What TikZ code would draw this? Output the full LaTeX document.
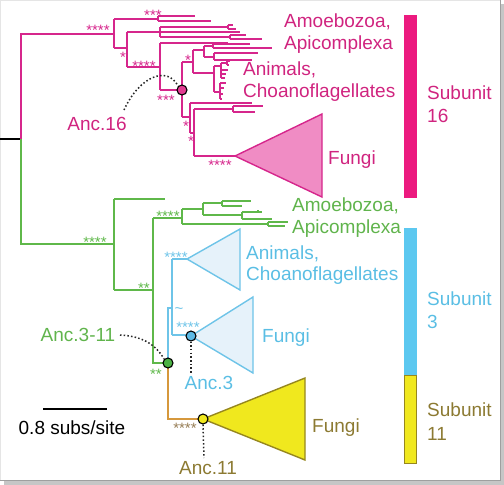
\documentclass[tikz,border=0pt]{standalone}
\usepackage{fontspec}
\setmainfont{Liberation Sans}
\definecolor{pinkL}{RGB}{214,38,140}
\definecolor{pinkFill}{RGB}{240,140,196}
\definecolor{pinkBar}{RGB}{236,26,127}
\definecolor{pinkText}{RGB}{208,36,127}
\definecolor{pinkDot}{RGB}{226,60,146}
\definecolor{greenL}{RGB}{95,184,74}
\definecolor{greenText}{RGB}{96,180,76}
\definecolor{greenDot}{RGB}{76,178,68}
\definecolor{blueL}{RGB}{110,196,232}
\definecolor{blueFill}{RGB}{230,242,250}
\definecolor{blueBar}{RGB}{92,200,240}
\definecolor{blueText}{RGB}{90,190,228}
\definecolor{blueDot}{RGB}{92,186,230}
\definecolor{orangeL}{RGB}{214,152,60}
\definecolor{yellowF}{RGB}{240,232,30}
\definecolor{yellowS}{RGB}{150,135,30}
\definecolor{oliveText}{RGB}{140,122,50}
\definecolor{oliveStar}{RGB}{150,125,85}
\begin{document}
\begin{tikzpicture}[x=1pt,y=-1pt,
  br/.style={line width=1.3pt},
  tri/.style={line width=1.4pt, line join=miter},
  lbl/.style={font=\fontsize{19}{22}\selectfont, inner sep=0pt, anchor=base west},
  anc/.style={font=\fontsize{19}{22}\selectfont, inner sep=0pt, anchor=base},
  stars/.style={font=\fontsize{15}{15}\selectfont, inner sep=0pt, anchor=base},
  ancdot/.style={circle, draw=black, line width=1.1pt, minimum size=10pt, inner sep=0pt},
  dotline/.style={line width=1.5pt, dash pattern=on 1.5pt off 2.2pt, black!85},
  bar/.style={line width=0pt}
]
\useasboundingbox (0,0) rectangle (504,485);
% frame
\fill[gray!45] (501,4) rectangle (504,485);
\fill[gray!45] (4,481) rectangle (504,485);
\draw[gray!20, line width=0.8pt] (0.4,480.5) -- (0.4,0.4) -- (500.5,0.4);
\draw[gray!75, line width=0.9pt] (500.5,0.4) -- (500.5,480.5) -- (0.4,480.5);

% ---------- root ----------
\draw[br, black] (0,139) -- (21,139);

% ---------- pink (subunit 16) tree ----------
\draw[br, pinkL]
  (21,139) -- (21,34) -- (114,34)
  (114,19) -- (114,48)
  (114,19) -- (158,19) (158,16) -- (158,21) (158,16) -- (195,16) (158,21) -- (211,21)
  (114,48) -- (127,48)
  (127,32) -- (127,67)
  (127,32) -- (160,32) (160,27) -- (160,37)
  (160,27) -- (228,27) (228,25) -- (228,29) (228,25) -- (233,25) (228,29) -- (236,29)
  (160,32) -- (240,32)
  (160,37) -- (230,37) (230,35) -- (230,39) (230,35) -- (246,35) (230,39) -- (262,39)
  (127,67) -- (160,67)
  (160,43) -- (160,90)
  (160,43) -- (228,43)
  (160,90) -- (182,90)
  (182,62) -- (182,117)
  (182,62) -- (193,62)
  (193,50) -- (193,73)
  (193,50) -- (204,50)
  (204,46) -- (204,57)
  (204,46) -- (213,46) (213,44) -- (213,48) (213,44) -- (250,44) (213,48) -- (272,48)
  (204,57) -- (214,57) (214,53) -- (214,60) (214,53) -- (258,53) (214,60) -- (252,60)
  (193,73) -- (214,73)
  (214,66) -- (214,92)
  (214,66) -- (221,66) (221,63) -- (221,78)
  (221,63) -- (227,63) (227,61) -- (227,65) (227,61) -- (230,61) (227,65) -- (229,65)
  (221,70) -- (228,70) (221,74) -- (226,74) (221,78) -- (225,78)
  (214,92) -- (220,92) (220,83) -- (220,99)
  (220,83) -- (226,83) (220,88) -- (224,88) (220,94) -- (223,94) (220,99) -- (222,99)
  (182,117) -- (190,117)
  (190,103) -- (190,133)
  (190,103) -- (252,103)
  (190,133) -- (194,133)
  (194,109) -- (194,156)
  (194,109) -- (233,109) (233,106) -- (233,112) (233,106) -- (263,106) (233,112) -- (255,112)
  (194,156) -- (235,156);
\draw[tri, pinkL, fill=pinkFill] (235,156) -- (322,114) -- (322,197) -- cycle;
\node[stars, pinkL] (s1) at (98,35.6) {****};
\node[stars, pinkL] (s2) at (153,20.6) {***};
\node[stars, pinkL] (s3) at (123,62.6) {*};
\node[stars, pinkL] (s4) at (144,71.6) {****};
\node[stars, pinkL] (s5) at (166,105.6) {***};
\node[stars, pinkL] (s6) at (188,65.6) {*};
\node[stars, pinkL] (s7) at (186,131.6) {*};
\node[stars, pinkL] (s8) at (191,146.6) {*};
\node[stars, pinkL] (s9) at (220,170.6) {****};
\node[ancdot, fill=pinkDot] (c16) at (182,90) {};

% ---------- green tree ----------
\draw[br, greenL]
  (21,139) -- (21,244) -- (114,244)
  (114,199) -- (114,290)
  (114,199) -- (165,199)
  (114,290) -- (153,290)
  (153,218) -- (153,363) -- (168,363)
  (153,218) -- (182,218)
  (182,209) -- (182,224)
  (182,209) -- (203,209)
  (203,203) -- (203,215)
  (203,203) -- (222,203) (222,201) -- (222,206) (222,201) -- (251,201) (222,206) -- (242,206)
  (203,215) -- (242,215) (242,212) -- (242,219) (242,212) -- (262,212) (242,219) -- (272,219)
  (258,210) -- (258,212)
  (182,224) -- (268,224) (268,222) -- (268,226) (268,222) -- (288,222) (268,226) -- (285,226);
\node[stars, greenL] (g1) at (95,247.6) {****};
\node[stars, greenL] (g2) at (144,293.6) {**};
\node[stars, greenL] (g3) at (168,221.6) {****};
\node[stars, greenL] (g4) at (156,379.6) {**};

% ---------- blue tree ----------
\draw[br, blueL]
  (168,363) -- (168,308) -- (172,308)
  (172,259) -- (172,335)
  (172,259) -- (187,259)
  (172,335) -- (191,335);
\draw[tri, blueL, fill=blueFill] (187,259) -- (240,229) -- (240,290) -- cycle;
\draw[tri, blueL, fill=blueFill] (191,336) -- (253,297) -- (253,373) -- cycle;
\node[stars, blueL] (b1) at (176,262.6) {****};
\node[stars, blueL] (b2) at (188,332.6) {****};
\node[stars, blueL] (b3) at (179,313) {\textasciitilde};

% ---------- orange / yellow ----------
\draw[br, orangeL] (168,363) -- (168,419) -- (203,419);
\draw[tri, yellowS, fill=yellowF] (203,419) -- (305,378) -- (305,460) -- cycle;
\node[stars, oliveStar] (y1) at (185,433.6) {****};

% ancestral circles
\node[ancdot, fill=greenDot] (c311) at (168,363) {};
\node[ancdot, fill=blueDot] (c3) at (191,336) {};
\node[ancdot, fill=yellowF] (c11) at (203,419) {};

% ---------- labels ----------
\node[lbl, pinkText] (pa1) at (284,27) {Amoebozoa,};
\node[lbl, pinkText] (pa2) at (284,49) {Apicomplexa};
\node[lbl, pinkText] (pc1) at (243,75) {Animals,};
\node[lbl, pinkText] (pc2) at (243,97) {Choanoflagellates};
\node[lbl, pinkText] (pf) at (328,164) {Fungi};
\node[lbl, greenText] (ga1) at (292,211) {Amoebozoa,};
\node[lbl, greenText] (ga2) at (292,233) {Apicomplexa};
\node[lbl, blueText] (bc1) at (246,259) {Animals,};
\node[lbl, blueText] (bc2) at (246,280) {Choanoflagellates};
\node[lbl, blueText] (bf) at (262,342) {Fungi};
\node[lbl, oliveText] (yf) at (312,432) {Fungi};

% subunit bars
\fill[pinkBar] (404,15) rectangle (417,198);
\fill[blueBar] (404,228) rectangle (417,375);
\draw[fill=yellowF, draw=yellowS, line width=0.8pt] (404.4,375) rectangle (416.6,463);
\node[lbl, pinkText] (u16a) at (427,99) {Subunit};
\node[lbl, pinkText] (u16b) at (427,122) {16};
\node[lbl, blueText] (u3a) at (427,305) {Subunit};
\node[lbl, blueText] (u3b) at (427,328) {3};
\node[lbl, oliveText] (u11a) at (427,416) {Subunit};
\node[lbl, oliveText] (u11b) at (427,440) {11};

% ancestor labels and dotted pointers
\node[anc, pinkText] (l16) at (97,130) {Anc.16};
\node[anc, greenText] (l311) at (78,341) {Anc.3-11};
\node[anc, blueText] (l3) at (209,389) {Anc.3};
\node[anc, oliveText] (l11) at (208,474) {Anc.11};
\coordinate (d16) at (124,110);
\coordinate (d311) at (120,335);
\coordinate (d3) at (191,373);
\coordinate (d11) at (204,458);
\draw[dotline] (d16) .. controls (140,75) and (168,66) .. (c16.north west);
\draw[dotline] (d311) .. controls (140,336) and (155,343) .. (c311.north west);
\draw[dotline] (c3.south) -- (d3);
\draw[dotline] (c11.south) -- (d11);

% scale bar
\coordinate (sb1) at (43,409);
\coordinate (sb2) at (107,409);
\draw[line width=2.6pt, black] (sb1) -- (sb2);
\node[anc, black] (sbl) at (72,434) {0.8 subs/site};
\end{tikzpicture}
\end{document}
